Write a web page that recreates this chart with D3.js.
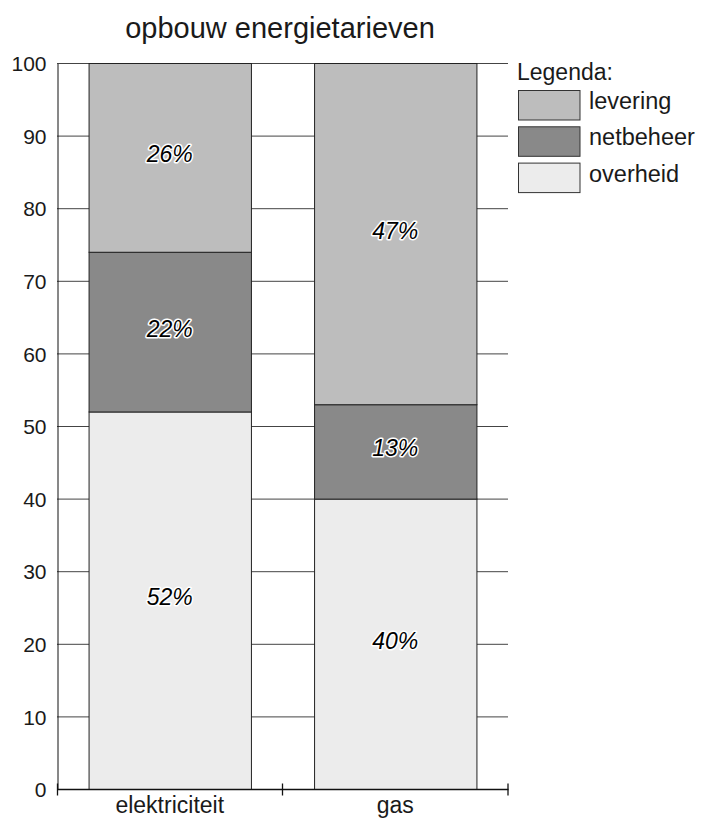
<!DOCTYPE html>
<html><head><meta charset="utf-8">
<script src="https://cdn.jsdelivr.net/npm/d3@7"></script>
<style>body{margin:0;background:#fff}svg{display:block;font-family:"Liberation Sans",Arial,sans-serif}</style>
</head><body>
<svg id="c" width="701" height="819"></svg>
<script>
const categories = ["elektriciteit", "gas"];
const seriesNames = ["overheid", "netbeheer", "levering"];
const overheid = [52, 40];
const netbeheer = [22, 13];
const levering = [26, 47];
const yTicks = [0,10,20,30,40,50,60,70,80,90,100];
const legendOrder = ["levering", "netbeheer", "overheid"];
const colors = {overheid:"#ececec", netbeheer:"#898989", levering:"#bdbdbd"};

const svg = d3.select("#c");
const x = d3.scaleBand().domain(categories).range([57, 508]).paddingInner(0.28).paddingOuter(0.14);
const y = d3.scaleLinear().domain([0,100]).range([789, 63]);

svg.append("text").attr("x", 280).attr("y", 38).attr("text-anchor","middle")
  .attr("font-size", 29).attr("fill","#1a1a1a").text("opbouw energietarieven");

// gridlines
svg.append("g").selectAll("line").data(yTicks.filter(d=>d>0)).join("line")
  .attr("x1",57).attr("x2",508).attr("y1",d=>y(d)+0.5).attr("y2",d=>y(d)+0.5)
  .attr("stroke","#444").attr("stroke-width",1);

const data = categories.map((c,i)=>({cat:c, overheid:overheid[i], netbeheer:netbeheer[i], levering:levering[i]}));
const stack = d3.stack().keys(seriesNames)(data);

const g = svg.append("g");
stack.forEach(s=>{
  g.selectAll(null).data(s).join("rect")
    .attr("x", d=>x(d.data.cat)+0.5).attr("width", x.bandwidth())
    .attr("y", d=>y(d[1])+0.5).attr("height", d=>y(d[0])-y(d[1]))
    .attr("fill", colors[s.key]).attr("stroke","#222").attr("stroke-width",1);
});
stack.forEach(s=>{
  g.selectAll(null).data(s).join("text")
    .attr("x", d=>x(d.data.cat)+x.bandwidth()/2)
    .attr("y", d=>(y(d[0])+y(d[1]))/2+5)
    .attr("text-anchor","middle").attr("font-size",23).attr("font-style","italic")
    .attr("fill","#000").attr("stroke","#fff").attr("stroke-width",3).attr("paint-order","stroke")
    .attr("stroke-linejoin","round")
    .text(d=>(d[1]-d[0])+"%");
});

// y axis
const ya = svg.append("g").attr("transform","translate(57.5,0.5)")
  .call(d3.axisLeft(y).tickValues(yTicks).tickSize(0).tickPadding(11));
ya.select(".domain").attr("stroke","#111");
ya.selectAll("text").attr("font-size",21).attr("fill","#1a1a1a").attr("font-family","Liberation Sans, Arial, sans-serif").attr("dy","0.34em");

// x axis
const xa = svg.append("g").attr("transform","translate(0,789.5)");
xa.append("line").attr("x1",57).attr("x2",508.5).attr("stroke","#111").attr("stroke-width",1.6);
const bounds = [57.5, (57+508)/2, 508];
xa.selectAll(".tk").data(bounds).join("line").attr("x1",d=>d).attr("x2",d=>d)
  .attr("y1",-6).attr("y2",6).attr("stroke","#111").attr("stroke-width",1.3);
xa.selectAll(".lbl").data(categories).join("text")
  .attr("x", d=>x(d)+x.bandwidth()/2).attr("y", 23.5)
  .attr("text-anchor","middle").attr("font-size",23).attr("fill","#1a1a1a").text(d=>d);

// legend
const lg = svg.append("g");
lg.append("text").attr("x",517).attr("y",80).attr("font-size",23).attr("fill","#1a1a1a").text("Legenda:");
legendOrder.forEach((k,i)=>{
  lg.append("rect").attr("x",518.5).attr("y",90.5+i*36.3).attr("width",61.5).attr("height",29.5)
    .attr("fill",colors[k]).attr("stroke","#333");
  lg.append("text").attr("x",589).attr("y",109+i*36.3).attr("font-size",23.5).attr("fill","#1a1a1a").text(k);
});
</script>
</body></html>
